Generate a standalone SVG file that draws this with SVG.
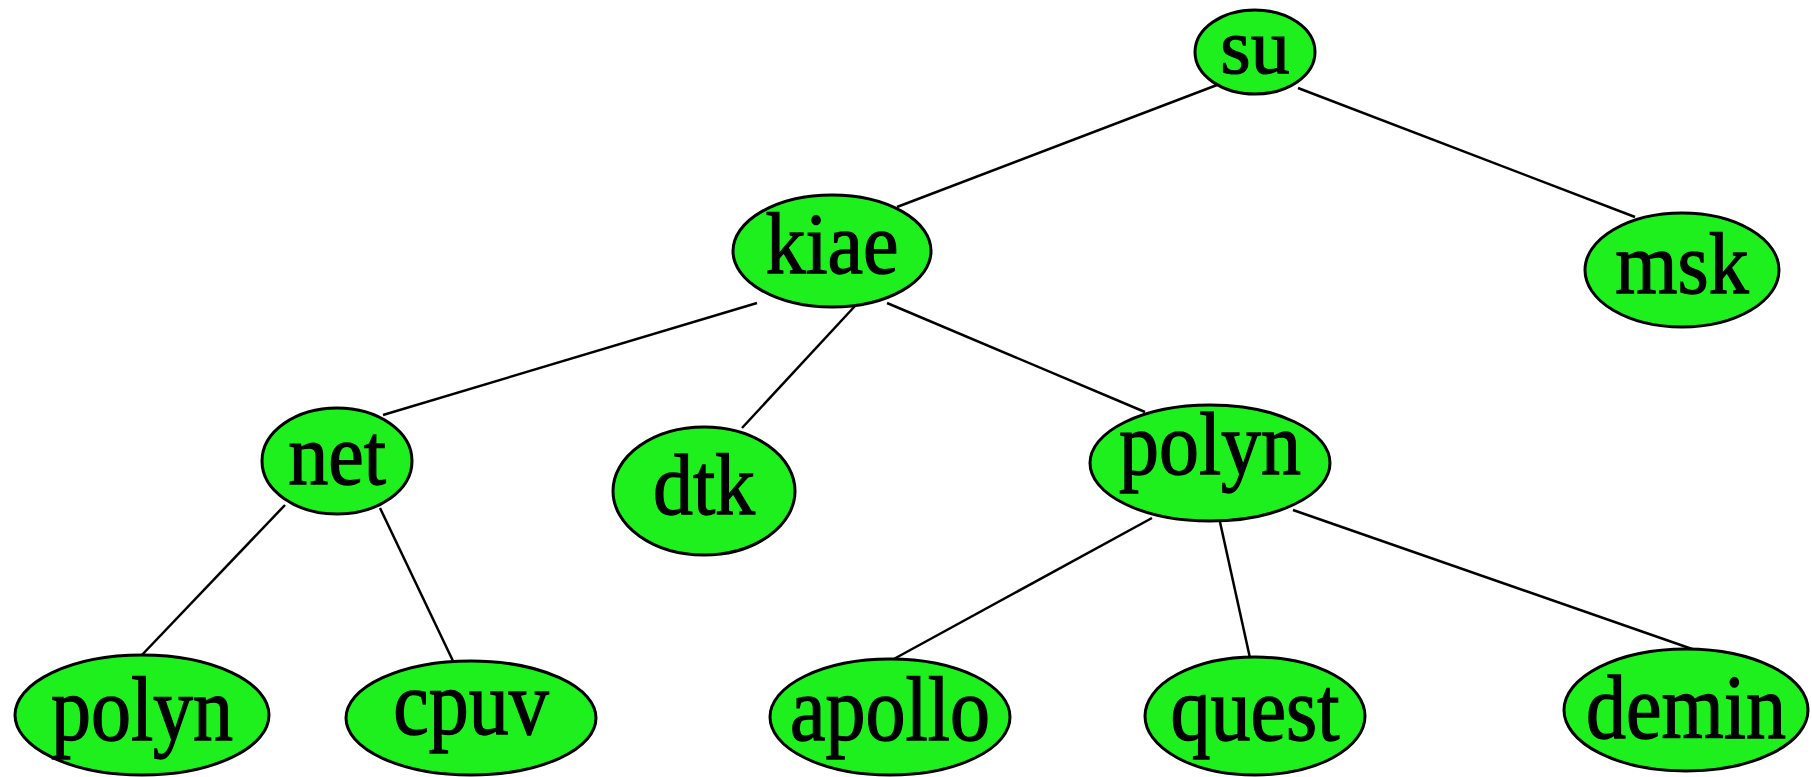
<svg xmlns="http://www.w3.org/2000/svg" width="1812" height="777" viewBox="0 0 1812 777">
<style>
.n ellipse{fill:#1ef01e;stroke:#000;stroke-width:3}
.n text{font-family:"Liberation Serif","Times New Roman",serif;font-size:80px;fill:#000;stroke:#000;stroke-width:1.2;text-anchor:middle}
.e line{stroke:#000;stroke-width:2.5}
</style>
<rect width="1812" height="777" fill="#fff"/>
<g class="e" id="edges">
<line x1="1217" y1="85" x2="897" y2="207"/>
<line x1="1298" y1="88" x2="1635" y2="217"/>
<line x1="757" y1="303" x2="383" y2="415"/>
<line x1="855" y1="306" x2="742" y2="428"/>
<line x1="887" y1="303" x2="1145" y2="412"/>
<line x1="285" y1="505" x2="140" y2="657"/>
<line x1="380" y1="508" x2="453" y2="661"/>
<line x1="1152" y1="518" x2="892" y2="660"/>
<line x1="1220" y1="522" x2="1250" y2="658"/>
<line x1="1293" y1="510" x2="1695" y2="650"/>
</g>
<g class="n" id="su"><ellipse cx="1255" cy="52" rx="60" ry="42"/><text x="1255" y="73" style="font-size:78px">su</text></g>
<g class="n" id="kiae"><ellipse cx="832" cy="251" rx="99" ry="56"/><text transform="translate(832,273) scale(1,1.08)">kiae</text></g>
<g class="n" id="msk"><ellipse cx="1682" cy="270" rx="97" ry="57"/><text transform="translate(1682,293) scale(1,1.08)">msk</text></g>
<g class="n" id="net"><ellipse cx="337" cy="461" rx="75" ry="53"/><text transform="translate(337,484) scale(1,1.08)">net</text></g>
<g class="n" id="dtk"><ellipse cx="704" cy="491" rx="91" ry="64"/><text transform="translate(704,514) scale(1,1.08)">dtk</text></g>
<g class="n" id="polyn1"><ellipse cx="1210" cy="463" rx="120" ry="58"/><text transform="translate(1210,474) scale(1,1.1)">polyn</text></g>
<g class="n" id="polyn2"><ellipse cx="142" cy="715" rx="127" ry="60"/><text transform="translate(142,740) scale(1,1.13)">polyn</text></g>
<g class="n" id="cpuv"><ellipse cx="471" cy="718" rx="125" ry="57"/><text transform="translate(471,734) scale(1,1.13)">cpuv</text></g>
<g class="n" id="apollo"><ellipse cx="890" cy="717" rx="120" ry="58"/><text transform="translate(890,740) scale(1,1.13)">apollo</text></g>
<g class="n" id="quest"><ellipse cx="1255" cy="716" rx="110" ry="59"/><text transform="translate(1255,740) scale(1,1.13)">quest</text></g>
<g class="n" id="demin"><ellipse cx="1686" cy="710" rx="122" ry="61"/><text transform="translate(1686,738) scale(1,1.13)">demin</text></g>
</svg>
